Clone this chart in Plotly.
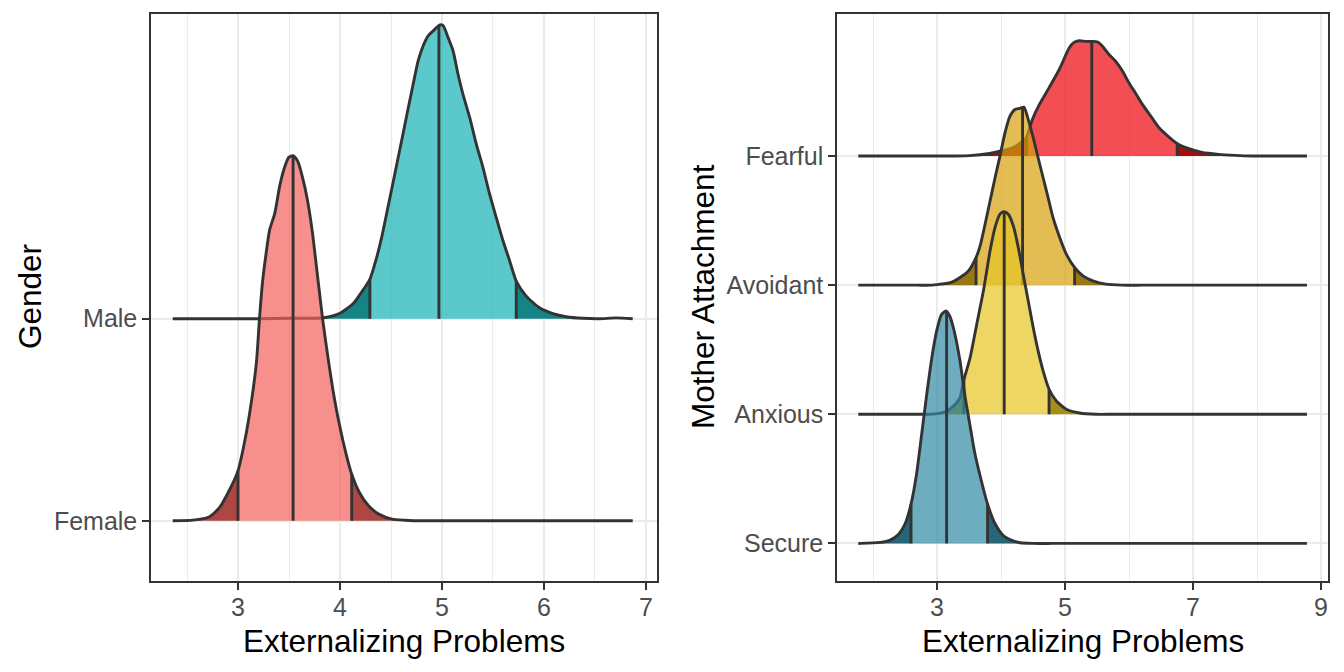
import numpy as np
import plotly.graph_objects as go

# ---------------- data: left panel (Gender) ----------------
gender_levels = ["Female", "Male"]

female_x = [2.36, 2.56, 2.72, 2.82, 2.92, 3.00, 3.05, 3.11, 3.18, 3.21, 3.24, 3.28, 3.31, 3.36,
            3.41, 3.46, 3.50, 3.54, 3.585, 3.63, 3.68, 3.73, 3.78, 3.83, 3.88, 3.93, 3.99, 4.06,
            4.115, 4.19, 4.28, 4.38, 4.51, 4.64, 4.80, 5.00, 5.30, 5.70, 6.10, 6.50, 6.87]
female_h = [0.0, 0.003, 0.02, 0.066, 0.156, 0.247, 0.354, 0.519, 0.78, 0.997, 1.18, 1.34, 1.44, 1.52,
            1.66, 1.755, 1.80, 1.807, 1.78, 1.705, 1.59, 1.425, 1.21, 0.997, 0.815, 0.65, 0.486, 0.33,
            0.23, 0.14, 0.074, 0.033, 0.008, 0.003, 0.0, 0.0, 0.0, 0.0, 0.0, 0.0, 0.0]
female_q = [3.00, 3.54, 4.115]

male_x = [2.36, 2.80, 3.20, 3.50, 3.84, 4.00, 4.13, 4.23, 4.293, 4.359, 4.408, 4.456, 4.505, 4.554,
          4.62, 4.668, 4.717, 4.766, 4.815, 4.864, 4.913, 4.978, 5.011, 5.06, 5.109, 5.157, 5.206,
          5.272, 5.337, 5.402, 5.467, 5.532, 5.598, 5.663, 5.728, 5.826, 5.956, 6.087, 6.217, 6.38,
          6.54, 6.71, 6.87]
male_h = [0.0, 0.0, 0.0, 0.002, 0.005, 0.027, 0.075, 0.145, 0.195, 0.302, 0.401, 0.517, 0.637, 0.757,
          0.92, 1.04, 1.16, 1.276, 1.35, 1.40, 1.424, 1.454, 1.45, 1.391, 1.325, 1.21, 1.11,
          0.995, 0.863, 0.748, 0.616, 0.50, 0.386, 0.287, 0.186, 0.112, 0.054, 0.025, 0.01, 0.002,
          0.0, 0.004, 0.0]
male_q = [4.293, 4.97, 5.728]

# ---------------- data: right panel (Mother Attachment) ----------------
attach_levels = ["Secure", "Anxious", "Avoidant", "Fearful"]

secure_x = [1.77, 1.80, 2.11, 2.27, 2.40, 2.50, 2.594, 2.68, 2.76, 2.84, 2.92, 3.00, 3.07, 3.14,
            3.20, 3.28, 3.36, 3.44, 3.52, 3.59, 3.67, 3.79, 3.91, 4.04, 4.19, 4.30, 4.50, 4.80,
            5.20, 5.80, 6.50, 7.20, 7.90, 8.78]
secure_h = [0.0, 0.0, 0.008, 0.026, 0.072, 0.15, 0.304, 0.536, 0.845, 1.155, 1.44, 1.657, 1.773, 1.80,
            1.76, 1.62, 1.41, 1.13, 0.90, 0.70, 0.53, 0.304, 0.15, 0.059, 0.02, 0.005, 0.0, 0.0,
            0.0, 0.0, 0.0, 0.0, 0.0, 0.0]
secure_q = [2.594, 3.15, 3.79]

anxious_x = [1.77, 2.20, 2.50, 2.70, 2.84, 3.00, 3.155, 3.285, 3.36, 3.415, 3.518, 3.622, 3.725,
             3.829, 3.907, 3.984, 4.047, 4.114, 4.192, 4.27, 4.347, 4.425, 4.503, 4.58, 4.658,
             4.751, 4.865, 5.02, 5.228, 5.487, 5.75, 6.10, 6.60, 7.20, 7.90, 8.78]
anxious_h = [0.0, 0.0, 0.0, 0.0, 0.0, 0.005, 0.026, 0.078, 0.129, 0.258, 0.44, 0.70, 0.956, 1.266,
             1.447, 1.55, 1.568, 1.55, 1.46, 1.292, 1.085, 0.879, 0.672, 0.491, 0.336, 0.194, 0.103,
             0.039, 0.010, 0.0, 0.0, 0.0, 0.0, 0.0, 0.0, 0.0]
anxious_q = [3.42, 4.05, 4.751]

avoidant_x = [1.77, 2.30, 2.70, 2.90, 3.05, 3.21, 3.36, 3.49, 3.61, 3.674, 3.751, 3.829, 3.907,
              3.984, 4.062, 4.14, 4.218, 4.295, 4.358, 4.425, 4.503, 4.58, 4.658, 4.736, 4.813,
              4.917, 5.02, 5.15, 5.28, 5.435, 5.64, 5.90, 6.20, 6.70, 7.30, 8.00, 8.78]
avoidant_h = [0.0, 0.0, 0.0, 0.0, 0.008, 0.02, 0.06, 0.11, 0.214, 0.304, 0.472, 0.652, 0.832, 1.0,
              1.18, 1.309, 1.361, 1.369, 1.379, 1.284, 1.142, 0.987, 0.832, 0.678, 0.523, 0.369,
              0.24, 0.137, 0.072, 0.034, 0.008, 0.0, 0.0, 0.0, 0.0, 0.0, 0.0]
avoidant_q = [3.61, 4.337, 5.15]

fearful_x = [1.77, 2.40, 3.00, 3.30, 3.51, 3.82, 4.00, 4.18, 4.34, 4.40, 4.49, 4.60, 4.75, 4.91,
             5.065, 5.14, 5.22, 5.325, 5.418, 5.51, 5.585, 5.69, 5.79, 5.90, 6.00, 6.10, 6.21, 6.34,
             6.47, 6.62, 6.75, 6.935, 7.14, 7.40, 7.66, 7.92, 8.20, 8.50, 8.78]
fearful_h = [0.0, 0.0, 0.0, 0.0, 0.003, 0.02, 0.039, 0.064, 0.116, 0.15, 0.283, 0.40, 0.528, 0.67,
             0.837, 0.88, 0.893, 0.888, 0.888, 0.883, 0.85, 0.785, 0.734, 0.656, 0.566, 0.489, 0.40,
             0.309, 0.219, 0.149, 0.098, 0.057, 0.028, 0.013, 0.005, 0.0, 0.0, 0.0, 0.0]
fearful_q = [4.40, 5.418, 6.753]

left_xticks = [3, 4, 5, 6, 7]
right_xticks = [3, 5, 7, 9]
x_title = "Externalizing Problems"
left_y_title = "Gender"
right_y_title = "Mother Attachment"

# ---------------- style ----------------
W, H = 1344, 672
FONT = "Liberation Sans, Arial, Helvetica, sans-serif"
OUTLINE = "#333333"
LW = 2.9
SMOOTH = 0.6

styles = {
    "Female": ("rgba(244,95,91,0.7)", "rgba(167,54,51,0.92)"),
    "Male": ("rgba(22,178,182,0.7)", "rgba(0,122,124,0.92)"),
    "Secure": ("rgba(49,138,164,0.7)", "rgba(19,89,109,0.92)"),
    "Anxious": ("rgba(229,196,34,0.7)", "rgba(158,134,3,0.92)"),
    "Avoidant": ("rgba(215,161,12,0.7)", "rgba(147,107,0,0.92)"),
    "Fearful": ("rgba(238,10,18,0.72)", "rgba(160,0,0,0.95)"),
}

fig = go.Figure()


def add_ridge(xs, hs, base, q, fillc, tailc, xa, ya):
    xs = np.asarray(xs, float)
    hs = np.asarray(hs, float)
    hq = np.interp(q, xs, hs)
    q0, q1, q2 = q
    segs = []
    m = xs < q0
    segs.append((np.r_[xs[m], q0], np.r_[hs[m], hq[0]], tailc))
    m = (xs > q0) & (xs < q2)
    segs.append((np.r_[q0, xs[m], q2], np.r_[hq[0], hs[m], hq[2]], fillc))
    m = xs > q2
    segs.append((np.r_[q2, xs[m]], np.r_[hq[2], hs[m]], tailc))
    for sx, sh, col in segs:
        fig.add_trace(go.Scatter(x=[sx[0], sx[-1]], y=[base, base], mode="lines",
                                 line=dict(width=0.5, color="rgba(0,0,0,0)"),
                                 hoverinfo="skip", showlegend=False, xaxis=xa, yaxis=ya))
        fig.add_trace(go.Scatter(x=sx, y=base + sh, mode="lines", fill="tonexty", fillcolor=col,
                                 line=dict(width=0.5, color="rgba(0,0,0,0)", shape="spline",
                                           smoothing=SMOOTH),
                                 hoverinfo="skip", showlegend=False, xaxis=xa, yaxis=ya))
    vx, vy = [], []
    for qi, hi in zip(q, hq):
        vx += [qi, qi, None]
        vy += [base, base + hi, None]
    fig.add_trace(go.Scatter(x=vx, y=vy, mode="lines", line=dict(width=LW, color=OUTLINE),
                             hoverinfo="skip", showlegend=False, xaxis=xa, yaxis=ya))
    fig.add_trace(go.Scatter(x=xs, y=base + hs, mode="lines",
                             line=dict(width=LW, color=OUTLINE, shape="spline", smoothing=SMOOTH),
                             hoverinfo="skip", showlegend=False, xaxis=xa, yaxis=ya))


left = {"Female": (female_x, female_h, female_q), "Male": (male_x, male_h, male_q)}
right = {"Secure": (secure_x, secure_h, secure_q), "Anxious": (anxious_x, anxious_h, anxious_q),
         "Avoidant": (avoidant_x, avoidant_h, avoidant_q), "Fearful": (fearful_x, fearful_h, fearful_q)}

for i, name in reversed(list(enumerate(gender_levels))):
    xs, hs, q = left[name]
    add_ridge(xs, hs, i + 1, q, *styles[name], "x", "y")
for i, name in reversed(list(enumerate(attach_levels))):
    xs, hs, q = right[name]
    add_ridge(xs, hs, i + 1, q, *styles[name], "x2", "y2")

ydom = [1 - 581 / H, 1 - 14 / H]
axis_common = dict(showline=True, mirror=True, linecolor="#333333", linewidth=1.5,
                   ticks="outside", ticklen=7, tickwidth=1.5, tickcolor="#333333",
                   tickfont=dict(family=FONT, size=25, color="#4D4D4D"),
                   showgrid=True, gridcolor="#EBEBEB", gridwidth=2, zeroline=False)

fig.update_layout(
    width=W, height=H, margin=dict(l=0, r=0, t=0, b=0),
    paper_bgcolor="white", plot_bgcolor="white", showlegend=False,
    xaxis=dict(domain=[151 / W, 657 / W], range=[2.147, 7.108], tickvals=left_xticks,
               minor=dict(dtick=0.5, tick0=2.5, showgrid=True, gridcolor="#EBEBEB", gridwidth=1),
               ticklabelstandoff=-4, anchor="y", **axis_common),
    yaxis=dict(domain=ydom, range=[0.702, 3.508], tickvals=[1, 2], ticktext=gender_levels,
               anchor="x", **axis_common),
    xaxis2=dict(domain=[837 / W, 1328 / W], range=[1.4375, 9.109], tickvals=right_xticks,
                minor=dict(dtick=1, tick0=2, showgrid=True, gridcolor="#EBEBEB", gridwidth=1),
                ticklabelstandoff=-4, anchor="y2", **axis_common),
    yaxis2=dict(domain=ydom, range=[0.709, 5.10], tickvals=[1, 2, 3, 4], ticktext=attach_levels,
                anchor="x2", **axis_common),
)

title_font = dict(family=FONT, size=31.5, color="black")
fig.add_annotation(text=x_title, x=404 / W, y=1 - 641 / H, xref="paper", yref="paper",
                   showarrow=False, xanchor="center", yanchor="middle", font=title_font)
fig.add_annotation(text=x_title, x=1082.5 / W, y=1 - 641 / H, xref="paper", yref="paper",
                   showarrow=False, xanchor="center", yanchor="middle", font=title_font)
fig.add_annotation(text=left_y_title, x=30 / W, y=1 - 297 / H, xref="paper", yref="paper",
                   showarrow=False, xanchor="center", yanchor="middle", textangle=-90,
                   font=title_font)
fig.add_annotation(text=right_y_title, x=703 / W, y=1 - 297 / H, xref="paper", yref="paper",
                   showarrow=False, xanchor="center", yanchor="middle", textangle=-90,
                   font=title_font)

fig.write_html("out.html", config={"displayModeBar": False},
               post_script="document.body.style.margin='0';")
